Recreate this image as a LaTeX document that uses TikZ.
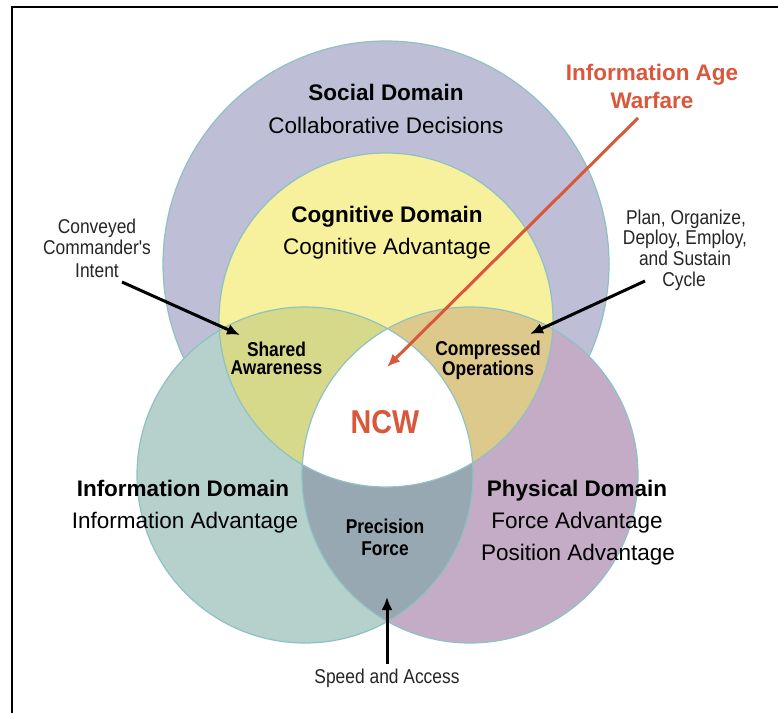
\documentclass[tikz,border=0pt]{standalone}
\usepackage{fontspec}
\setmainfont{Liberation Sans}
\newfontfamily\narrowsans[FakeStretch=0.87]{Liberation Sans}
\usetikzlibrary{arrows.meta}
\definecolor{socialfill}{HTML}{BEBED6}
\definecolor{cogfill}{HTML}{F7F09C}
\definecolor{infofill}{HTML}{B6D0CC}
\definecolor{physfill}{HTML}{C4ACC7}
\definecolor{sharedfill}{HTML}{D6D98A}
\definecolor{compfill}{HTML}{DDC98C}
\definecolor{precfill}{HTML}{98A8B2}
\definecolor{rimcol}{HTML}{8EC2C2}
\definecolor{ncwred}{HTML}{D9573A}
\begin{document}
\begin{tikzpicture}[x=1pt,y=-1pt,
  rim/.style={draw=rimcol,line width=1.2pt},
  domtitle/.style={font=\fontsize{22.5}{26}\selectfont\bfseries, anchor=base, inner sep=0pt},
  domtext/.style={font=\fontsize{22.5}{26}\selectfont, anchor=base, inner sep=0pt},
  redtitle/.style={domtitle, text=ncwred},
  zonelabel/.style={font=\narrowsans\fontsize{20}{#1}\selectfont\bfseries, align=center, anchor=center, inner sep=0pt},
  notelabel/.style={font=\narrowsans\fontsize{20}{22}\selectfont, text=black!85, anchor=base, inner sep=0pt, text height=14pt, text depth=4pt},
  pointer/.style={line width=3pt, -{Latex[length=13pt,width=11pt]}},
  frameline/.style={line width=2.5pt}]
\useasboundingbox (0,0) rectangle (778,713);
\fill[white] (0,0) rectangle (778,713);

% circle centres
\coordinate (cS) at (386,264);
\coordinate (cC) at (386,320);
\coordinate (cI) at (305,475);
\coordinate (cP) at (470,475);

% social domain
\fill[socialfill] (cS) circle[radius=223pt];
\draw[rim] (cS) circle[radius=223pt];
% information and physical domains
\fill[infofill] (cI) circle[radius=168pt];
\fill[physfill] (cP) circle[radius=168pt];
\begin{scope}
  \clip (cI) circle[radius=168pt];
  \fill[precfill] (cP) circle[radius=168pt];
\end{scope}
% cognitive domain
\fill[cogfill] (cC) circle[radius=167pt];
\begin{scope}
  \clip (cC) circle[radius=167pt];
  \fill[sharedfill] (cI) circle[radius=168pt];
  \fill[compfill] (cP) circle[radius=168pt];
  \clip (cI) circle[radius=168pt];
  \fill[white] (cP) circle[radius=168pt];
\end{scope}
\draw[rim] (cI) circle[radius=168pt];
\draw[rim] (cP) circle[radius=168pt];
\draw[rim] (cC) circle[radius=167pt];

% frame
\coordinate (frameBL) at (12,713);
\coordinate (frameTL) at (12,7);
\coordinate (frameTR) at (778,7);
\draw[frameline] (frameBL) -- (frameTL) -- (frameTR);

% domain texts
\node[domtitle] (socialT) at (386,100) {Social Domain};
\node[domtext] (socialS) at (386,133) {Collaborative Decisions};
\node[domtitle] (cogT) at (387,222) {Cognitive Domain};
\node[domtext] (cogS) at (387,254) {Cognitive Advantage};
\node[domtitle] (infoT) at (183,496) {Information Domain};
\node[domtext] (infoS) at (185,528) {Information Advantage};
\node[domtitle] (physT) at (577,496) {Physical Domain};
\node[domtext] (physS) at (577,528) {Force Advantage};
\node[domtext] (physS2) at (578,560) {Position Advantage};

% red texts
\node[redtitle] (iawA) at (652,80) {Information Age};
\node[redtitle] (iawB) at (652,108) {Warfare};
\node[font=\narrowsans\fontsize{33}{36}\selectfont\bfseries, text=ncwred, anchor=base, inner sep=0pt] (ncw) at (385,433) {NCW};

% zone labels
\node[zonelabel=18.5] (shared) at (276.5,358.5) {Shared\\Awareness};
\node[zonelabel=20] (comp) at (488,360) {Compressed\\Operations};
\node[zonelabel=22] (prec) at (385,537) {Precision\\Force};

% notes
\node[notelabel] (intentA) at (97,233) {Conveyed};
\node[notelabel] (intentB) at (97,254) {Commander's};
\node[notelabel] (intentC) at (97,277) {Intent};
\node[notelabel] (cycleA) at (686,224) {Plan, Organize,};
\node[notelabel] (cycleB) at (685,244) {Deploy, Employ,};
\node[notelabel] (cycleC) at (685,265) {and Sustain};
\node[notelabel] (cycleD) at (684,286) {Cycle};
\node[notelabel] (speed) at (387,683) {Speed and Access};

% arrows
\coordinate (intentTail) at (122,282);
\coordinate (intentTip) at (240,335);
\draw[pointer] (intentTail) -- (intentTip);
\coordinate (cycleTail) at (645,281);
\coordinate (cycleTip) at (530,334);
\draw[pointer] (cycleTail) -- (cycleTip);
\coordinate (speedTail) at (387,664);
\coordinate (speedTip) at (387,597);
\draw[pointer] (speedTail) -- (speedTip);
\coordinate (iawTail) at (638,118);
\coordinate (iawTip) at (387,367);
\draw[pointer, ncwred] (iawTail) -- (iawTip);
\end{tikzpicture}
\end{document}
